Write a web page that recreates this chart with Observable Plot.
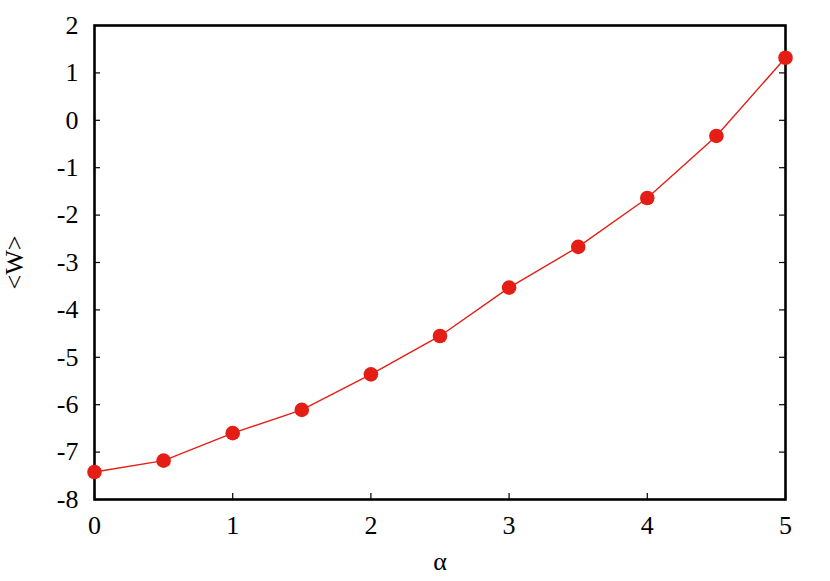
<!DOCTYPE html>
<html>
<head>
<meta charset="utf-8">
<script src="https://cdn.jsdelivr.net/npm/d3@7"></script>
<script src="https://cdn.jsdelivr.net/npm/@observablehq/plot@0.6"></script>
<style>
  html, body { margin: 0; padding: 0; background: #fff; }
</style>
</head>
<body>
<div id="chart"></div>
<script>
const alpha = [0, 0.5, 1, 1.5, 2, 2.5, 3, 3.5, 4, 4.5, 5];
const W = [-7.42, -7.18, -6.60, -6.11, -5.36, -4.55, -3.53, -2.67, -1.64, -0.33, 1.32];
const xTicks = [0, 1, 2, 3, 4, 5];
const yTicks = [-8, -7, -6, -5, -4, -3, -2, -1, 0, 1, 2];

const data = alpha.map((a, i) => ({alpha: a, w: W[i]}));

const width = 830, height = 581;
const mL = 94, mR = 45, mT = 25, mB = 82;
const pw = width - mL - mR, ph = height - mT - mB;
const tick = 6;
const red = "#e41e15";
const fmt = d => String(d);

const chart = Plot.plot({
  width, height,
  marginLeft: mL, marginRight: mR, marginTop: mT, marginBottom: mB,
  style: {fontFamily: "Liberation Serif", fontSize: "26px", color: "#000", background: "#fff"},
  x: {domain: [0, 5]},
  y: {domain: [-8, 2]},
  marks: [
    Plot.axisX(xTicks, {tickSize: 0, tickPadding: 16, tickFormat: fmt, label: "α", labelAnchor: "center", labelArrow: "none", labelOffset: 70, fontSize: 26, fontFamily: "Liberation Serif"}),
    Plot.axisY(yTicks, {tickSize: 0, tickPadding: 16, tickFormat: fmt, label: "<W>", labelAnchor: "center", labelArrow: "none", labelOffset: 90, fontSize: 26, fontFamily: "Liberation Serif"}),
    Plot.tickY(yTicks, {y: d => d, insetRight: pw - tick, stroke: "#000", strokeWidth: 1.2}),
    Plot.tickY(yTicks, {y: d => d, insetLeft: pw - tick, stroke: "#000", strokeWidth: 1.2}),
    Plot.tickX(xTicks, {x: d => d, insetTop: ph - tick, stroke: "#000", strokeWidth: 1.2}),
    Plot.frame({stroke: "#000", strokeWidth: 2.6}),
    Plot.line(data, {x: "alpha", y: "w", stroke: red, strokeWidth: 1.4}),
    Plot.dot(data, {x: "alpha", y: "w", r: 7.3, fill: red, stroke: "none"})
  ]
});
document.getElementById("chart").appendChild(chart);
</script>
</body>
</html>
